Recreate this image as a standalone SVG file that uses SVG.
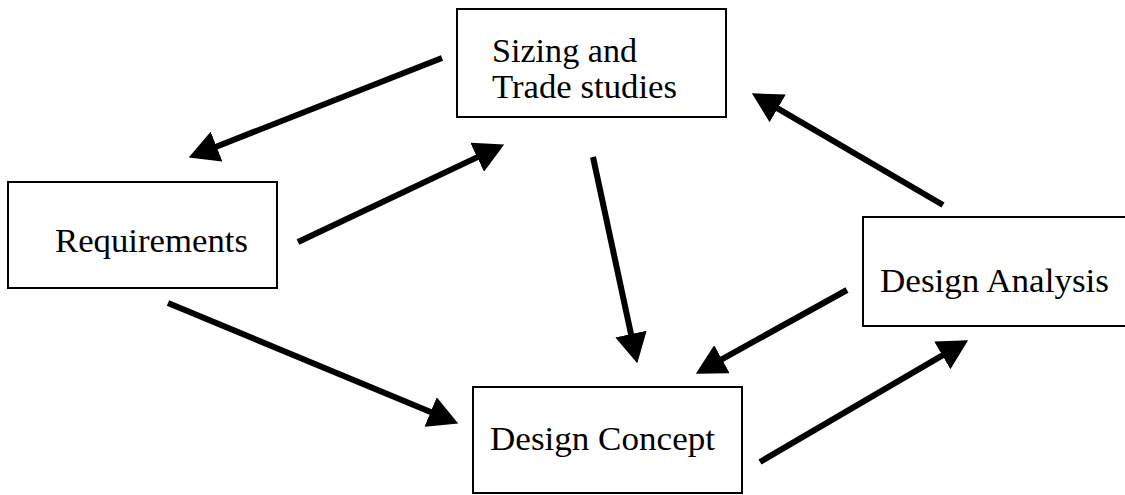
<svg xmlns="http://www.w3.org/2000/svg" width="1125" height="495" viewBox="0 0 1125 495">
<style>
.box{fill:#fff;stroke:#000;stroke-width:2}
.lbl{font-family:"Liberation Serif","Times New Roman",serif;font-size:33px;fill:#000}
.arr{stroke:#000;stroke-width:6;fill:none;marker-end:url(#ah)}
</style>
<defs>
<marker id="ah" markerUnits="userSpaceOnUse" markerWidth="30" markerHeight="32" refX="8" refY="15" orient="auto" viewBox="0 0 28 30">
<path d="M0,0 L28,15 L0,30 z" fill="#000"/>
</marker>
</defs>
<rect width="1125" height="495" fill="#fff"/>
<g id="sizing">
<rect class="box" x="457" y="9" width="269" height="108"/>
<text class="lbl" x="492" y="62" textLength="145" lengthAdjust="spacingAndGlyphs">Sizing and</text>
<text class="lbl" x="492" y="98" textLength="185" lengthAdjust="spacingAndGlyphs">Trade studies</text>
</g>
<g id="requirements">
<rect class="box" x="8" y="182" width="269" height="106"/>
<text class="lbl" x="55" y="252" textLength="193" lengthAdjust="spacingAndGlyphs">Requirements</text>
</g>
<g id="concept">
<rect class="box" x="473" y="387" width="269" height="106"/>
<text class="lbl" x="490" y="450" textLength="225" lengthAdjust="spacingAndGlyphs">Design Concept</text>
</g>
<g id="analysis">
<rect class="box" x="863" y="217" width="270" height="109"/>
<text class="lbl" x="880" y="292" textLength="229" lengthAdjust="spacingAndGlyphs">Design Analysis</text>
</g>
<g id="connectors">
<line class="arr" x1="442" y1="58" x2="208.6" y2="149.7"/>
<line class="arr" x1="298" y1="242" x2="484.9" y2="153.6"/>
<line class="arr" x1="593" y1="157" x2="632.8" y2="342.4"/>
<line class="arr" x1="943" y1="205" x2="770.3" y2="104.1"/>
<line class="arr" x1="168" y1="303" x2="438.5" y2="415.3"/>
<line class="arr" x1="847" y1="290" x2="714.5" y2="363.3"/>
<line class="arr" x1="760" y1="462" x2="949.7" y2="351.1"/>
</g>
</svg>
